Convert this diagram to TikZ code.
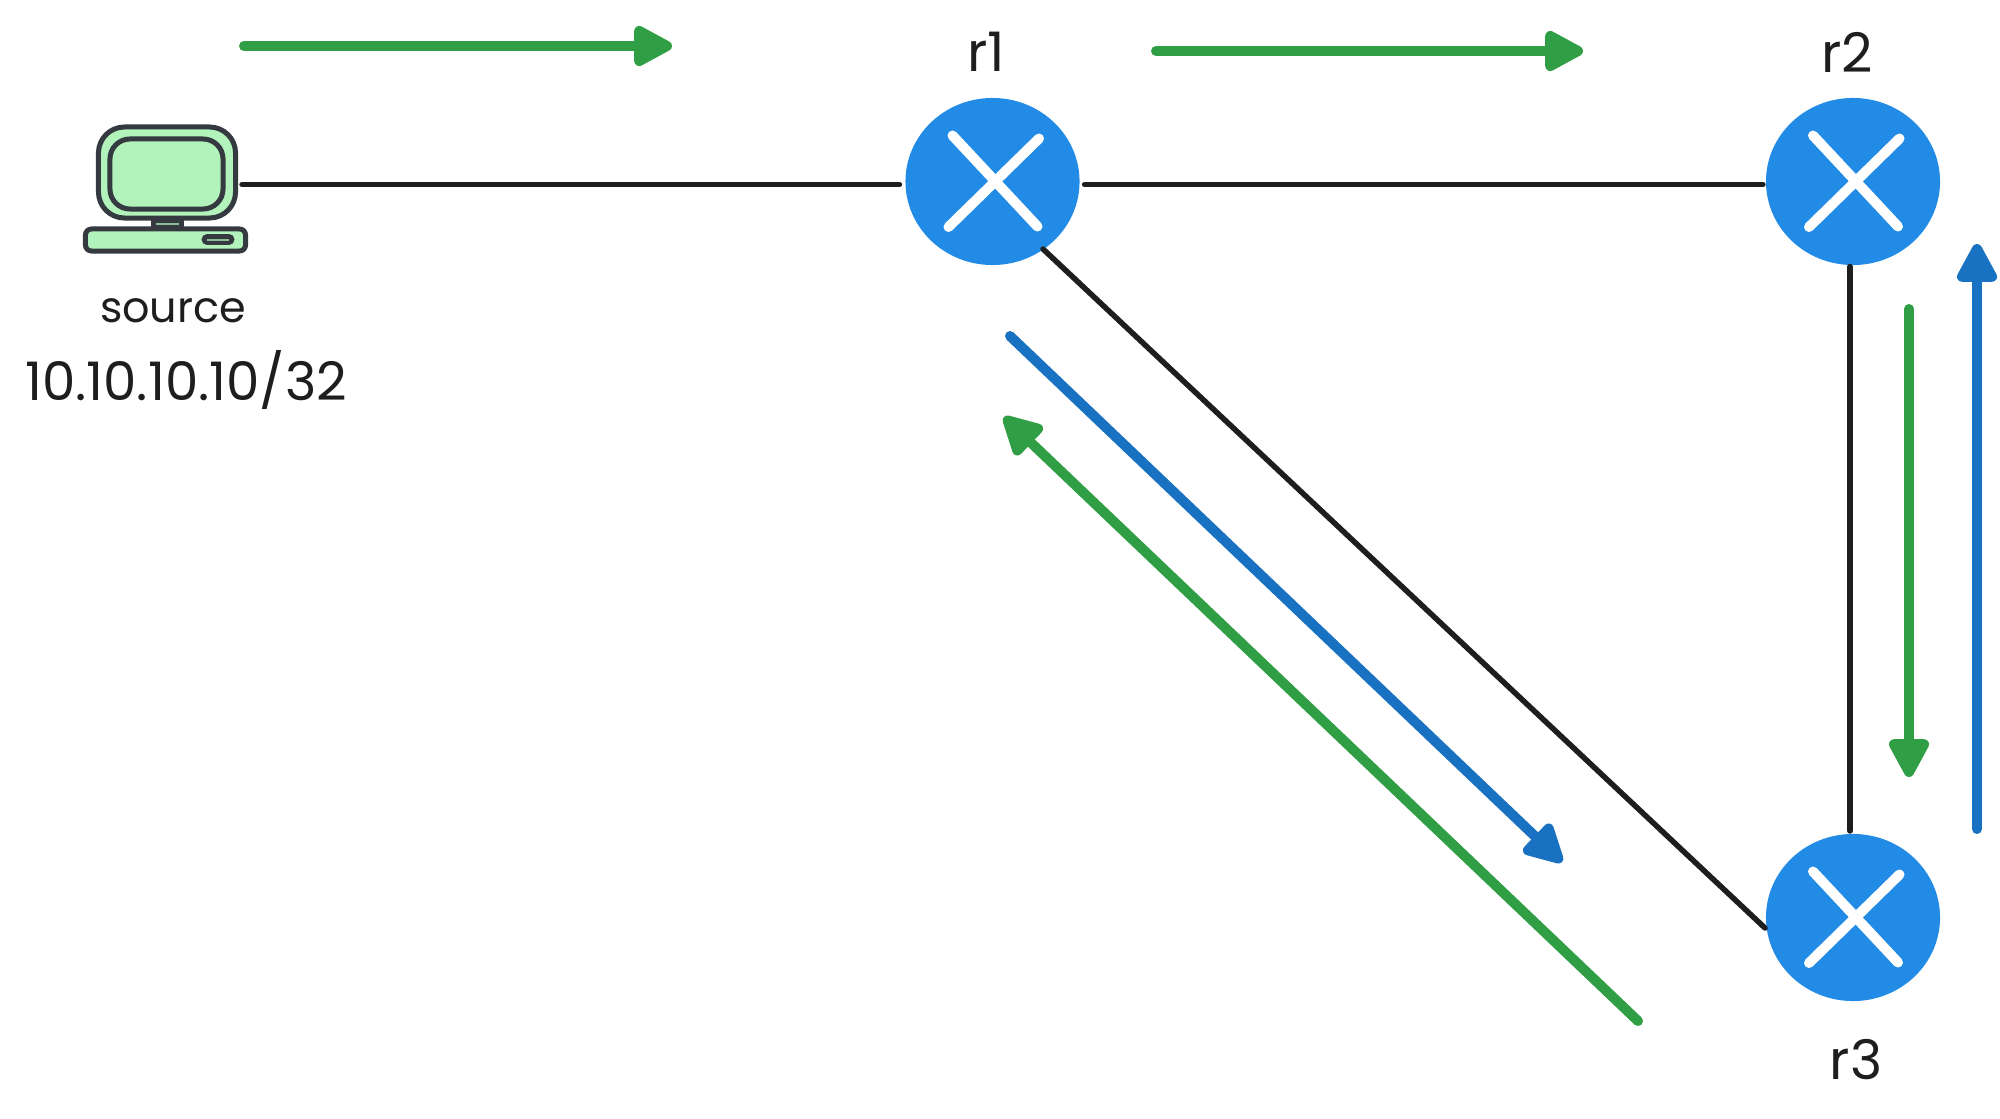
\documentclass[tikz,border=0pt]{standalone}
\usepackage{fontspec}
\setmainfont{Poppins}
\usetikzlibrary{arrows.meta,shapes.geometric}
\definecolor{routerblue}{HTML}{228BE6}
\definecolor{flowgreen}{HTML}{2F9E44}
\definecolor{flowblue}{HTML}{1971C2}
\definecolor{pcgreen}{HTML}{B2F2BB}
\definecolor{pcdark}{HTML}{343A40}
\definecolor{ink}{HTML}{1E1E1E}
\tikzset{
  router/.style={ellipse, fill=routerblue, minimum width=1.74cm, minimum height=1.67cm, inner sep=0pt, outer sep=0pt},
  crossbar/.style={white, line width=0.1cm, line cap=round},
  link/.style={ink, line width=0.055cm, line cap=round},
  flow/.style={line width=0.1cm, line cap=round, -{Triangle[length=12.5pt,width=12.5pt,round]}},
  pcpart/.style={draw=pcdark, fill=pcgreen, line width=0.05cm, rectangle, inner sep=0pt},
  pcslot/.style={pcdark, line width=0.11cm, line cap=round},
  pcslit/.style={pcgreen!70!pcdark, line width=0.02cm},
  label/.style={ink, font=\fontsize{15.5}{18}\selectfont}
}
\begin{document}
\begin{tikzpicture}[x=0.01cm,y=-0.01cm]
\useasboundingbox (0,0) rectangle (2000,1118);

% Routers
\node[router] (r1) at (992.5,181.5) {};
\node[router] (r2) at (1853,181.5) {};
\node[router] (r3) at (1853,917.5) {};
\foreach \n in {r1,r2,r3}{
  \draw[crossbar] ([shift={(-40,-46)}]\n.center) -- ([shift={(45,45)}]\n.center);
  \draw[crossbar] ([shift={(46.5,-43)}]\n.center) -- ([shift={(-44,45.5)}]\n.center);
}
\node[label] (r1label) at (986,52) {r1};
\node[label] (r2label) at (1847,52) {r2};
\node[label] (r3label) at (1856,1060) {r3};

% Source host
\draw[pcslot, line cap=butt] (151,223.5) -- (184,223.5);
\draw[pcslit] (156,223.5) -- (179,223.5);
\node[pcpart, rounded corners=0.26cm, minimum width=1.37cm, minimum height=0.91cm] (monitor) at (167,172.5) {};
\node[pcpart, rounded corners=0.2cm, minimum width=1.13cm, minimum height=0.7cm] (screen) at (166.5,174) {};
\node[pcpart, rounded corners=0.06cm, minimum width=1.6cm, minimum height=0.22cm] (base) at (165.5,240) {};
\coordinate (slotA) at (207,239.5);
\coordinate (slotB) at (229,239.5);
\draw[pcslot] (slotA) -- (slotB);
\draw[pcslit] (slotA) -- (slotB);
\node[label, font=\fontsize{12.2}{14}\selectfont] (source) at (173,311) {source};
\node[label, font=\fontsize{15.1}{17}\selectfont] (address) at (186,380) {10.10.10.10/32};

% Links
\draw[link] ([shift={(4,12)}]monitor.east) -- ([shift={(-6,3)}]r1.west);
\draw[link] ([shift={(5,3)}]r1.east) -- ([shift={(-3,3)}]r2.west);
\draw[link] ([shift={(-3,1.5)}]r2.south) -- ([shift={(-3,-3)}]r3.north);
\draw[link] ([shift={(50.5,67.5)}]r1.center) -- ([shift={(-88,10.5)}]r3.center);

% Traffic directions
\coordinate (topA) at (244,46);
\coordinate (topB) at (672,46);
\coordinate (midA) at (1156,51);
\coordinate (midB) at (1583,51);
\coordinate (downA) at (1909,309);
\coordinate (downB) at (1909,777);
\coordinate (upA) at (1977,829);
\coordinate (upB) at (1977,244);
\coordinate (diagA) at (1010,336);
\coordinate (diagB) at (1562,862);
\coordinate (backA) at (1638,1021);
\coordinate (backB) at (1004,417);
\draw[flow, flowgreen] (topA) -- (topB);
\draw[flow, flowgreen] (midA) -- (midB);
\draw[flow, flowgreen] (downA) -- (downB);
\draw[flow, flowblue] (upA) -- (upB);
\draw[flow, flowblue] (diagA) -- (diagB);
\draw[flow, flowgreen] (backA) -- (backB);

\end{tikzpicture}
\end{document}
